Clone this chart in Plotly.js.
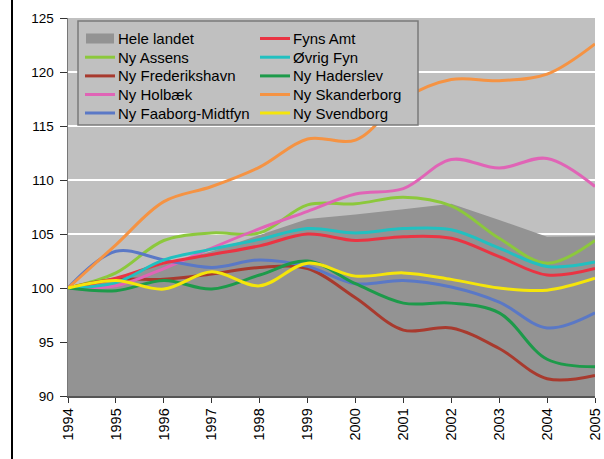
<!DOCTYPE html>
<html>
<head>
<meta charset="utf-8">
<script src="https://cdn.plot.ly/plotly-3.0.1.min.js"></script>
<style>
  html, body { margin: 0; padding: 0; background: #ffffff; }
  #wrap { position: relative; width: 604px; height: 459px; overflow: hidden; }
  #chart { position: absolute; left: 0; top: 0; width: 604px; height: 459px; }
  #frame { position: absolute; left: 11px; top: 0; width: 2px; height: 459px; background: #000; }
</style>
</head>
<body>
<div id="wrap">
  <div id="chart"></div>
  <div id="frame"></div>
</div>
<script>
// ---- data ----
var years = [1994, 1995, 1996, 1997, 1998, 1999, 2000, 2001, 2002, 2003, 2004, 2005];
var yTicks = [90, 95, 100, 105, 110, 115, 120, 125];

var heleLandet      = [100, 101.0, 102.2, 103.4, 104.9, 106.4, 106.8, 107.3, 107.8, 106.3, 104.75, 104.8];
var nyAssens        = [100, 101.4, 104.4, 105.1, 105.1, 107.7, 107.8, 108.4, 107.6, 104.6, 102.3, 104.4];
var nyFrederikshavn = [100, 100.8, 100.8, 101.3, 101.9, 101.8, 99.1, 96.1, 96.3, 94.4, 91.6, 91.9];
var nyHolbaek       = [100, 100.2, 101.8, 103.7, 105.5, 107.1, 108.7, 109.2, 111.9, 111.1, 112.0, 109.4];
var nyFaaborg       = [100, 103.4, 102.6, 101.9, 102.6, 102.0, 100.4, 100.7, 100.1, 98.7, 96.3, 97.7];
var fynsAmt         = [100, 100.9, 102.3, 103.1, 103.9, 105.0, 104.4, 104.75, 104.6, 102.9, 101.2, 101.8];
var ovrigFyn        = [100, 100.5, 102.6, 103.6, 104.5, 105.5, 105.1, 105.5, 105.4, 103.7, 102.0, 102.4];
var nyHaderslev     = [100, 99.75, 100.7, 99.9, 101.2, 102.5, 100.4, 98.6, 98.6, 97.7, 93.4, 92.7];
var nySkanderborg   = [100, 104.0, 108.0, 109.4, 111.2, 113.8, 113.7, 117.5, 119.3, 119.2, 119.8, 122.6];
var nySvendborg     = [100, 100.7, 99.9, 101.5, 100.2, 102.3, 101.1, 101.4, 100.8, 100.0, 99.8, 100.9];

var areaName = "Hele landet";
var lineNames = ["Ny Assens", "Ny Frederikshavn", "Ny Holbæk", "Ny Faaborg-Midtfyn",
                 "Fyns Amt", "Øvrig Fyn", "Ny Haderslev", "Ny Skanderborg", "Ny Svendborg"];
var lineValues = [nyAssens, nyFrederikshavn, nyHolbaek, nyFaaborg,
                  fynsAmt, ovrigFyn, nyHaderslev, nySkanderborg, nySvendborg];
var lineColors = ["#8cc83c", "#a83a2e", "#e064b6", "#5a78c6",
                  "#ea3443", "#22c0c0", "#1d9a4a", "#f59343", "#f5e50a"];
var areaColor = "#939393";

// ---- traces ----
var traces = [{
  x: years, y: heleLandet, name: areaName, type: "scatter", mode: "none",
  fill: "tozeroy", fillcolor: areaColor, showlegend: false, hoverinfo: "skip"
}];
for (var i = 0; i < lineNames.length; i++) {
  traces.push({
    x: years, y: lineValues[i], name: lineNames[i], type: "scatter", mode: "lines",
    line: { color: lineColors[i], width: 3, shape: "spline", smoothing: 1 },
    showlegend: false
  });
}

// ---- manual legend (two columns, column-wise order) ----
var L = 68, W = 527, T = 18, H = 378;
function px(xp) { return (xp - L) / W; }
function py(yp) { return 1 - (yp - T) / H; }

var shapes = [{
  type: "rect", xref: "paper", yref: "paper", layer: "above",
  x0: px(78), x1: px(418), y0: py(21), y1: py(125),
  fillcolor: "#c0c0c0", line: { color: "#7a7a7a", width: 1.5 }
}];
var annotations = [];
var legendNames = [areaName].concat(lineNames);
var legendColors = [areaColor].concat(lineColors);
var rowY = [38.5, 57.2, 75.9, 94.5, 113];
var colSym = [85, 260];
var colText = [116, 291];
for (var k = 0; k < legendNames.length; k++) {
  var c = Math.floor(k / 5), r = k % 5;
  var yc = rowY[r];
  if (k === 0) {
    shapes.push({ type: "rect", xref: "paper", yref: "paper", layer: "above",
      x0: px(colSym[c] + 1), x1: px(colSym[c] + 29), y0: py(yc + 5), y1: py(yc - 5),
      fillcolor: legendColors[k], line: { width: 0 } });
  } else {
    shapes.push({ type: "line", xref: "paper", yref: "paper", layer: "above",
      x0: px(colSym[c]), x1: px(colSym[c] + 30), y0: py(yc), y1: py(yc),
      line: { color: legendColors[k], width: 3 } });
  }
  annotations.push({
    xref: "paper", yref: "paper", x: px(colText[c]), y: py(yc),
    xanchor: "left", yanchor: "middle", showarrow: false,
    text: legendNames[k],
    font: { family: "Liberation Sans, Arial, sans-serif", size: 15, color: "#000" }
  });
}

var layout = {
  width: 604, height: 459,
  margin: { l: L, r: 604 - L - W, t: T, b: 459 - T - H, pad: 0 },
  paper_bgcolor: "#ffffff",
  plot_bgcolor: "#c0c0c0",
  showlegend: false,
  font: { family: "Liberation Sans, Arial, sans-serif", size: 13, color: "#000" },
  xaxis: {
    range: [1994, 2005], tickmode: "array", tickvals: years, ticktext: years.map(String),
    tickangle: -90, showgrid: false, zeroline: false,
    ticks: "outside", ticklen: 5, tickcolor: "#333", tickwidth: 1,
    showline: true, linecolor: "#555", linewidth: 1.5,
    ticklabeloverflow: "allow",
    tickfont: { size: 14.5, color: "#000" }
  },
  yaxis: {
    range: [90, 125], tickmode: "array", tickvals: yTicks, ticktext: yTicks.map(String),
    showgrid: true, gridcolor: "#ffffff", gridwidth: 2, zeroline: false,
    ticks: "outside", ticklen: 7, tickcolor: "#333", tickwidth: 1,
    showline: true, linecolor: "#777", linewidth: 1.5,
    tickfont: { size: 13.5, color: "#000" }, ticklabelstandoff: 3
  },
  shapes: shapes,
  annotations: annotations
};

Plotly.newPlot("chart", traces, layout, { staticPlot: true, displayModeBar: false });
</script>
</body>
</html>
